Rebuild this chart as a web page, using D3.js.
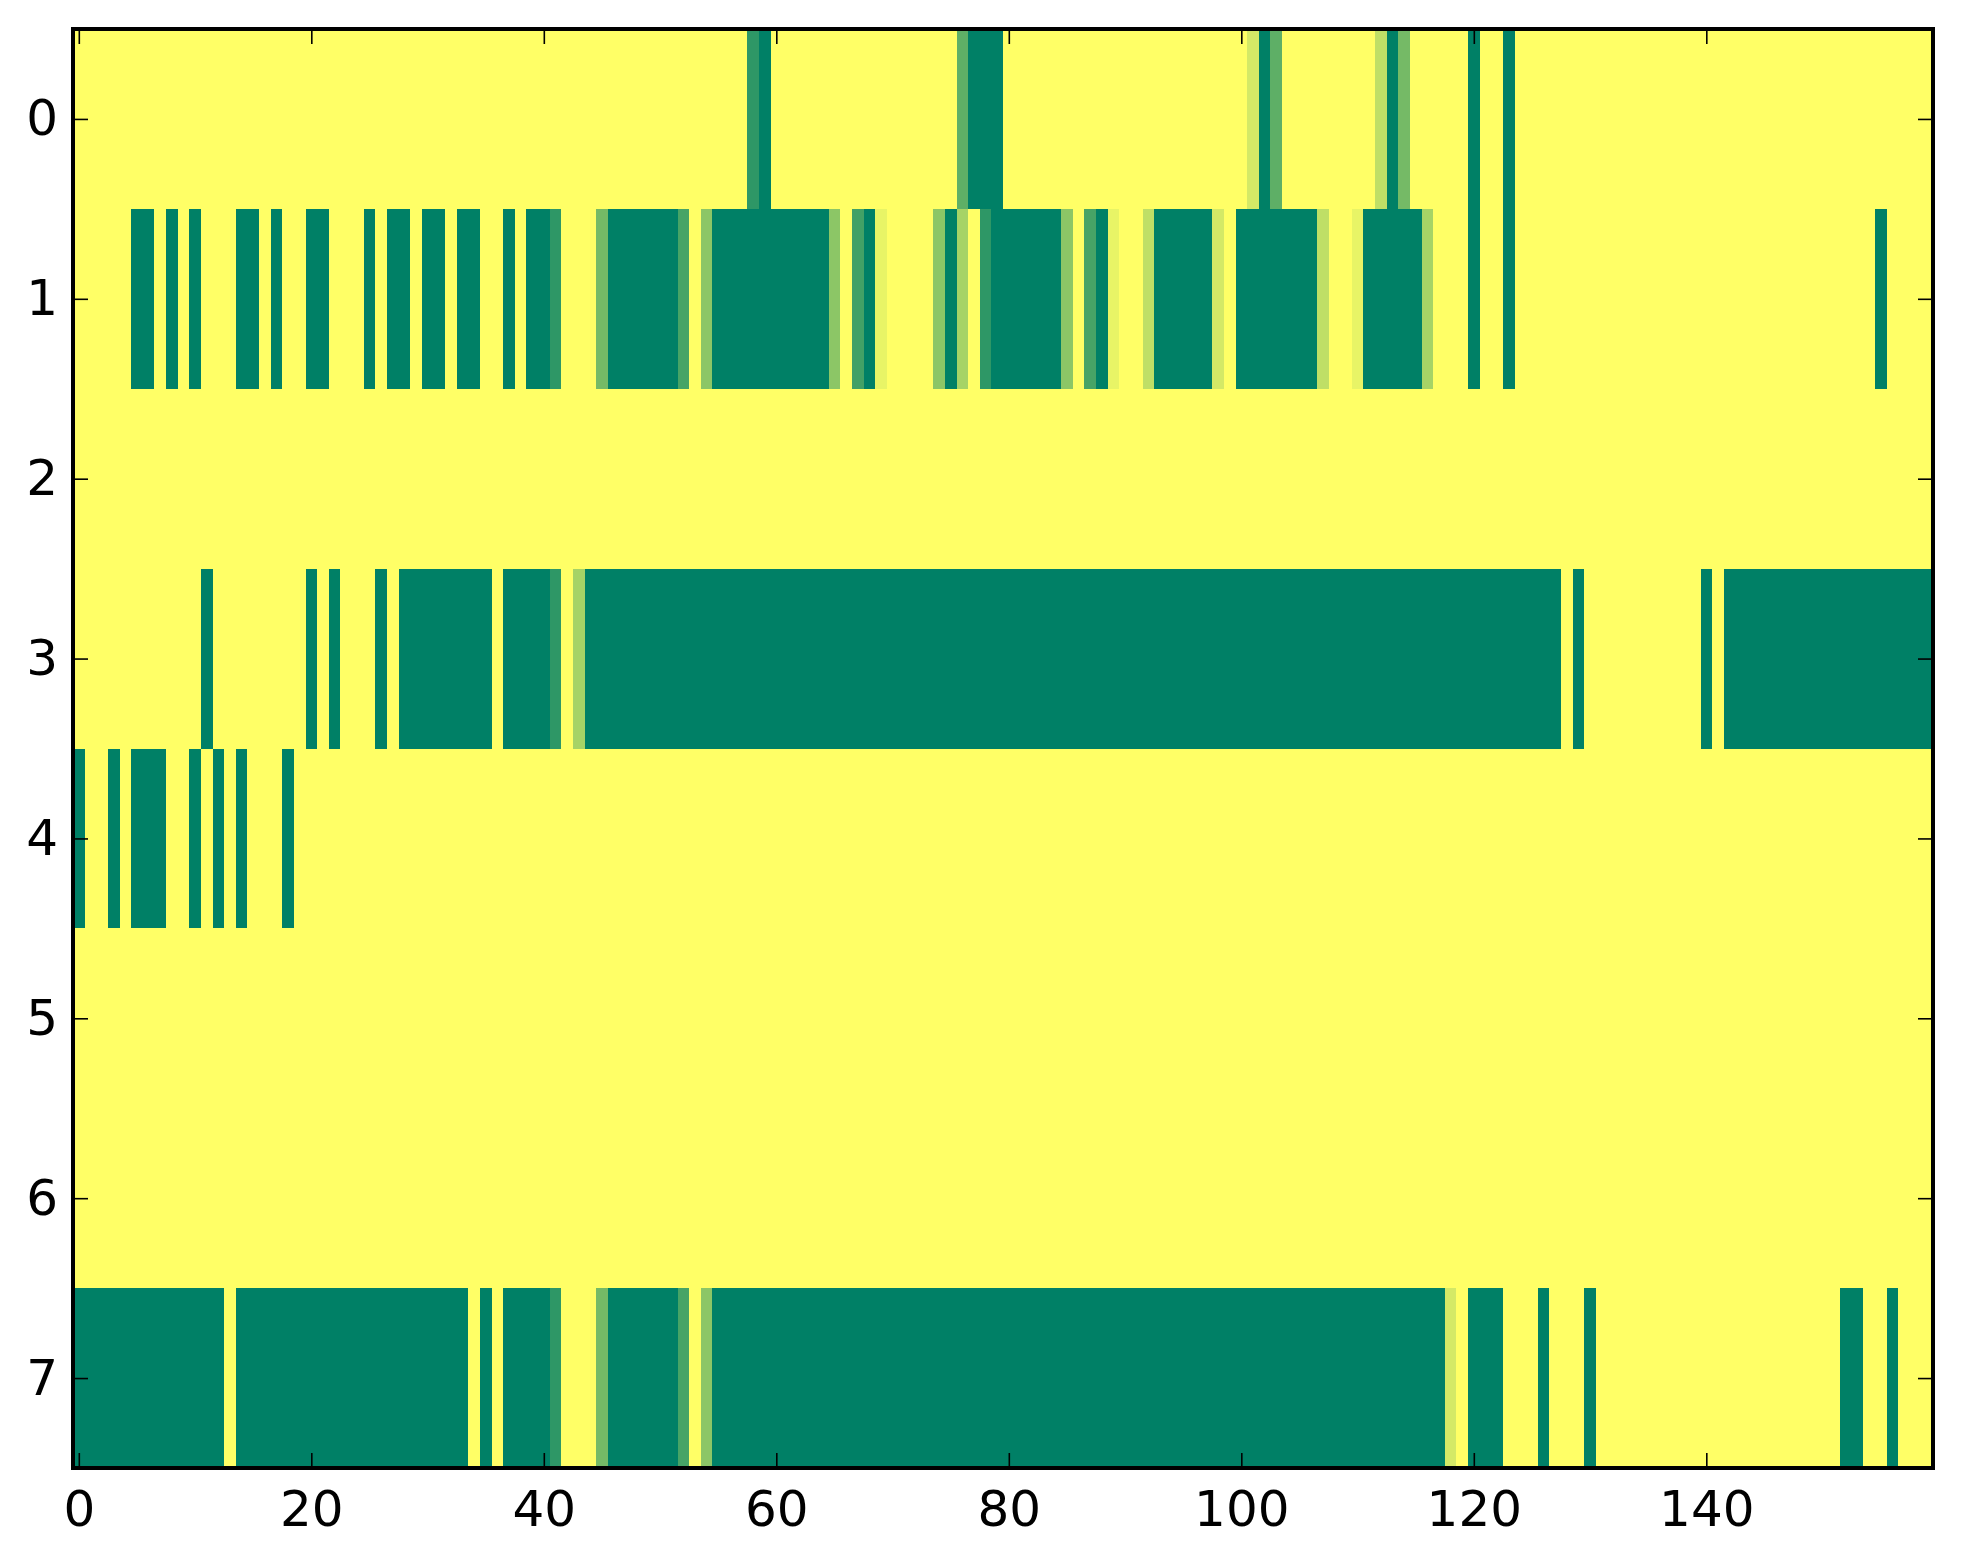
<!DOCTYPE html>
<html>
<head>
<meta charset="utf-8">
<script src="https://cdn.jsdelivr.net/npm/d3@7"></script>
<style>
  body { margin: 0; background: #fff; }
  svg text { font-family: "DejaVu Sans", sans-serif; }
</style>
</head>
<body>
<svg id="canvas"></svg>
<script>
// image grid: 8 rows x 160 columns, values 0..1 (summer_r colormap)
const nCols = 160;
const rowLabels = [0, 1, 2, 3, 4, 5, 6, 7];
const xTicks = [0, 20, 40, 60, 80, 100, 120, 140];

// non-zero cells as runs: [firstCol, lastCol, value]
const row0 = [[58,58,0.82],[59,59,1],[76,76,0.63],[77,79,1],[101,101,0.17],[102,102,1],[103,103,0.63],
  [112,112,0.25],[113,113,1],[114,114,0.54],[120,120,1],[123,123,1]];
const row1 = [[5,6,1],[8,8,1],[10,10,1],[14,15,1],[17,17,1],[20,21,1],[25,25,1],[27,28,1],[30,31,1],
  [33,34,1],[37,37,1],[39,40,1],[41,41,0.82],[45,45,0.54],[46,51,1],[52,52,0.72],[54,54,0.45],[55,64,1],
  [65,65,0.45],[67,67,0.74],[68,68,1],[69,69,0.09],[74,74,0.45],[75,75,1],[76,76,0.35],[78,78,0.82],
  [79,84,1],[85,85,0.45],[87,87,0.72],[88,88,1],[89,89,0.09],[92,92,0.25],[93,97,1],[98,98,0.17],
  [100,106,1],[107,107,0.25],[110,110,0.09],[111,115,1],[116,116,0.35],[120,120,1],[123,123,1],[155,155,1]];
const row2 = [];
const row3 = [[11,11,1],[20,20,1],[22,22,1],[26,26,1],[28,35,1],[37,40,1],[41,41,0.82],[43,43,0.35],
  [44,127,1],[129,129,1],[140,140,1],[142,159,1]];
const row4 = [[0,0,1],[3,3,1],[5,7,1],[10,10,1],[12,12,1],[14,14,1],[18,18,1]];
const row5 = [];
const row6 = [];
const row7 = [[0,12,1],[14,33,1],[35,35,1],[37,40,1],[41,41,0.82],[45,45,0.54],[46,51,1],[52,52,0.72],
  [54,54,0.45],[55,117,1],[118,118,0.17],[120,122,1],[126,126,1],[130,130,1],[152,153,1],[156,156,1]];

const rows = [row0, row1, row2, row3, row4, row5, row6, row7];

const width = 1963;
const height = 1564;
const plotLeft = 73, plotRight = 1933, plotTop = 29, plotBottom = 1468;

const svg = d3.select('#canvas')
    .attr('width', width)
    .attr('height', height);

// build full matrix (zero everywhere else)
let cells = [];
rows.forEach((runs, r) => {
    let vals = new Array(nCols).fill(0);
    runs.forEach(([a, b, v]) => {
        for (let c = a; c <= b; c++) vals[c] = v;
    });
    vals.forEach((v, c) => cells.push({row: r, col: c, value: v}));
});

const xBand = d3.scaleBand().domain(d3.range(nCols)).range([plotLeft, plotRight]);
const yBand = d3.scaleBand().domain(rowLabels).range([plotTop, plotBottom]);
const xScale = d3.scaleLinear().domain([-0.5, nCols - 0.5]).range([plotLeft, plotRight]);
const yScale = d3.scaleLinear().domain([-0.5, 7.5]).range([plotTop, plotBottom]);

// summer_r: 0 -> yellow, 1 -> green
const color = d3.scaleLinear().domain([0, 1]).range(['#ffff66', '#008066']);

svg.append('g')
    .attr('shape-rendering', 'crispEdges')
    .selectAll('rect')
    .data(cells)
    .enter()
    .append('rect')
    .attr('x', d => xBand(d.col))
    .attr('y', d => yBand(d.row))
    .attr('width', xBand.bandwidth() + 0.5)
    .attr('height', yBand.bandwidth() + 0.5)
    .attr('fill', d => color(d.value));

const tickLen = 15;

const xAxis = d3.axisBottom(xScale).tickValues(xTicks).tickFormat(d3.format('d'))
    .tickSizeInner(-tickLen).tickSizeOuter(0).tickPadding(22);
const xAxisTop = d3.axisTop(xScale).tickValues(xTicks).tickFormat('')
    .tickSizeInner(-tickLen).tickSizeOuter(0);
const yAxis = d3.axisLeft(yScale).tickValues(rowLabels).tickFormat(d3.format('d'))
    .tickSizeInner(-tickLen).tickSizeOuter(0).tickPadding(15);
const yAxisRight = d3.axisRight(yScale).tickValues(rowLabels).tickFormat('')
    .tickSizeInner(-tickLen).tickSizeOuter(0);

const axes = [
    [xAxis, 'translate(0,' + plotBottom + ')'],
    [xAxisTop, 'translate(0,' + plotTop + ')'],
    [yAxis, 'translate(' + plotLeft + ',0)'],
    [yAxisRight, 'translate(' + plotRight + ',0)']
];
axes.forEach(([ax, tr]) => {
    let g = svg.append('g').attr('transform', tr).call(ax);
    g.select('.domain').remove();
    g.selectAll('line').attr('stroke', '#000').attr('stroke-width', 1.6);
    g.selectAll('text').attr('fill', '#000').style('font-size', '50px')
        .style('font-family', '"DejaVu Sans", sans-serif');
});

// frame
svg.append('rect')
    .attr('x', plotLeft)
    .attr('y', plotTop)
    .attr('width', plotRight - plotLeft)
    .attr('height', plotBottom - plotTop)
    .attr('fill', 'none')
    .attr('stroke', '#000')
    .attr('stroke-width', 4);
</script>
</body>
</html>
